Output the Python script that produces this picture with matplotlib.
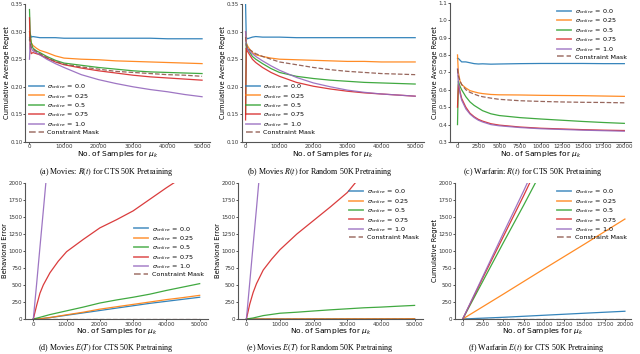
import numpy as np
import matplotlib.pyplot as plt

# ---- data ----
labels = [r'$\sigma_{online}$ = 0.0', r'$\sigma_{online}$ = 0.25', r'$\sigma_{online}$ = 0.5',
          r'$\sigma_{online}$ = 0.75', r'$\sigma_{online}$ = 1.0', 'Constraint Mask']
colors = ['#1f77b4', '#ff7f0e', '#2ca02c', '#d62728', '#9467bd', '#8c564b']

# (a) Movies R(t), CTS 50K pretraining
a_x = [0, 200, 500, 1000, 2000, 3000, 5000, 7500, 10000, 15000, 20000, 25000, 30000, 35000, 40000, 45000, 50000]
a_s00 = [0.285, 0.295, 0.290, 0.291, 0.290, 0.289, 0.289, 0.289, 0.288, 0.288, 0.288, 0.288, 0.288, 0.288, 0.287, 0.287, 0.287]
a_s25 = [0.300, 0.290, 0.280, 0.275, 0.270, 0.266, 0.262, 0.256, 0.252, 0.250, 0.249, 0.247, 0.246, 0.245, 0.244, 0.243, 0.242]
a_s50 = [0.340, 0.300, 0.280, 0.270, 0.265, 0.262, 0.255, 0.248, 0.243, 0.239, 0.235, 0.232, 0.229, 0.227, 0.226, 0.225, 0.224]
a_s75 = [0.325, 0.270, 0.260, 0.262, 0.260, 0.258, 0.252, 0.245, 0.240, 0.234, 0.229, 0.225, 0.221, 0.218, 0.216, 0.214, 0.212]
a_s100 = [0.250, 0.280, 0.270, 0.265, 0.262, 0.258, 0.250, 0.242, 0.235, 0.222, 0.213, 0.206, 0.200, 0.195, 0.191, 0.186, 0.182]
a_mask = [0.290, 0.280, 0.272, 0.268, 0.264, 0.260, 0.253, 0.246, 0.241, 0.236, 0.232, 0.228, 0.226, 0.224, 0.222, 0.221, 0.219]

# (b) Movies R(t), Random 50K pretraining
b_x = a_x
b_s00 = [0.350, 0.290, 0.287, 0.288, 0.290, 0.291, 0.290, 0.290, 0.290, 0.289, 0.289, 0.289, 0.289, 0.289, 0.289, 0.289, 0.289]
b_s25 = [0.300, 0.280, 0.275, 0.270, 0.262, 0.258, 0.255, 0.252, 0.250, 0.249, 0.248, 0.247, 0.246, 0.246, 0.245, 0.245, 0.245]
b_s50 = [0.150, 0.280, 0.270, 0.265, 0.255, 0.250, 0.242, 0.233, 0.226, 0.219, 0.215, 0.212, 0.210, 0.208, 0.207, 0.206, 0.205]
b_s75 = [0.140, 0.270, 0.265, 0.260, 0.250, 0.244, 0.235, 0.226, 0.219, 0.208, 0.201, 0.196, 0.192, 0.189, 0.187, 0.185, 0.183]
b_s100 = [0.300, 0.275, 0.270, 0.265, 0.260, 0.255, 0.247, 0.238, 0.230, 0.217, 0.207, 0.200, 0.194, 0.190, 0.187, 0.185, 0.183]
b_mask = [0.290, 0.275, 0.270, 0.268, 0.264, 0.260, 0.255, 0.250, 0.245, 0.240, 0.235, 0.231, 0.228, 0.226, 0.224, 0.223, 0.222]

# (c) Warfarin R(t), CTS 50K pretraining
c_x = [0, 100, 300, 500, 1000, 1500, 2000, 2500, 3000, 4000, 5000, 7500, 10000, 12500, 15000, 17500, 20000]
c_s00 = [0.78, 0.78, 0.77, 0.76, 0.76, 0.755, 0.75, 0.748, 0.749, 0.747, 0.748, 0.750, 0.751, 0.751, 0.751, 0.750, 0.750]
c_s25 = [0.80, 0.70, 0.65, 0.63, 0.61, 0.595, 0.588, 0.582, 0.578, 0.573, 0.571, 0.570, 0.568, 0.567, 0.566, 0.564, 0.562]
c_s50 = [0.40, 0.65, 0.62, 0.60, 0.56, 0.53, 0.51, 0.495, 0.48, 0.462, 0.452, 0.44, 0.432, 0.425, 0.418, 0.412, 0.407]
c_s75 = [0.50, 0.63, 0.59, 0.55, 0.50, 0.465, 0.445, 0.43, 0.42, 0.405, 0.397, 0.386, 0.379, 0.375, 0.371, 0.368, 0.366]
c_s100 = [0.72, 0.64, 0.58, 0.54, 0.49, 0.46, 0.44, 0.425, 0.415, 0.40, 0.393, 0.383, 0.376, 0.372, 0.368, 0.365, 0.362]
c_mask = [0.72, 0.68, 0.65, 0.63, 0.60, 0.585, 0.575, 0.566, 0.56, 0.552, 0.545, 0.537, 0.533, 0.530, 0.528, 0.527, 0.525]

# (d) Movies E(T), CTS 50K pretraining
d_x = [0, 2000, 5000, 10000, 15000, 20000, 25000, 30000, 35000, 40000, 45000, 50000]
d_s00 = [0, 3, 20, 55, 90, 125, 160, 195, 230, 260, 290, 320]
d_s25 = [0, 3, 22, 62, 100, 145, 180, 215, 250, 285, 315, 348]
d_s50 = [0, 25, 65, 120, 175, 235, 280, 320, 365, 420, 470, 520]
d_mask = [0, 0, 0, 0, 0, 0, 0, 0, 0, 0, 0, 0]
d_x75 = [0, 500, 1000, 2000, 3000, 5000, 7500, 10000, 15000, 20000, 25000, 30000, 35000, 40000, 42500]
d_s75 = [0, 100, 200, 380, 500, 680, 850, 990, 1170, 1340, 1460, 1590, 1760, 1930, 2010]
d_x100 = [0, 1000, 2000, 3000, 3800]
d_s100 = [0, 520, 1060, 1590, 2020]

# (e) Movies E(T), Random 50K pretraining
e_x = d_x
e_s00 = [0, 0, 1, 1, 1, 2, 2, 2, 2, 3, 3, 3]
e_s25 = [0, 0, 1, 1, 2, 2, 2, 3, 3, 3, 3, 4]
e_s50 = [0, 15, 50, 85, 100, 118, 135, 150, 165, 175, 188, 200]
e_mask = d_mask
e_x75 = [0, 500, 1000, 2000, 3000, 5000, 7500, 10000, 15000, 20000, 25000, 30000, 32500]
e_s75 = [0, 110, 220, 390, 520, 720, 880, 1020, 1250, 1450, 1650, 1860, 2010]
e_x100 = [0, 1000, 2000, 3000, 3700]
e_s100 = [0, 540, 1090, 1630, 2020]

# (f) Warfarin E(t), CTS 50K pretraining
f_x = [0, 5000, 10000, 15000, 20000]
f_s00 = [0, 25, 55, 85, 114]
f_s25 = [0, 365, 735, 1100, 1470]
f_mask = [0, 0, 0, 0, 0]
f_x50 = [0, 2500, 5000, 7500, 9000]
f_s50 = [0, 560, 1120, 1670, 2010]
f_x75 = [0, 2500, 5000, 7500, 8300]
f_s75 = [0, 610, 1210, 1810, 2010]
f_x100 = [0, 2500, 5000, 7500, 8000]
f_s100 = [0, 630, 1260, 1880, 2010]

captions = [r'(a) Movies: $R(t)$ for CTS 50K Pretraining',
            r'(b) Movies $R(t)$ for Random 50K Pretraining',
            r'(c) Warfarin: $R(t)$ for CTS 50K Pretraining',
            r'(d) Movies $E(T)$ for CTS 50K Pretraining',
            r'(e) Movies $E(T)$ for Random 50K Pretraining',
            r'(f) Warfarin $E(t)$ for CTS 50K Pretraining']

# ---- figure ----
W, H = 640, 354
fig = plt.figure(figsize=(W / 100, H / 100), dpi=100)
plt.rcParams['font.family'] = 'DejaVu Sans'


def make_ax(l, t, r, b):
    ax = fig.add_axes([l / W, 1 - b / H, (r - l) / W, (b - t) / H])
    for s in ['top', 'right']:
        ax.spines[s].set_visible(False)
    for s in ['left', 'bottom']:
        ax.spines[s].set_linewidth(0.8)
        ax.spines[s].set_color('#555555')
    ax.tick_params(labelsize=4.0, length=1.3, width=0.6, pad=0.5, colors='#333333')
    return ax


def draw(ax, series, ylabel, xlim, ylim, xticks, yticks, leg_loc, leg_anchor):
    for i, (x, y) in enumerate(series):
        ls = '--' if i == 5 else '-'
        ax.plot(x, y, ls, color=colors[i], lw=0.9, alpha=0.9, label=labels[i])
    ax.set_xlim(*xlim)
    ax.set_ylim(*ylim)
    ax.set_xticks(xticks)
    ax.set_yticks(yticks)
    ax.set_xlabel(r'No. of Samples for $\mu_k$', fontsize=5.4, labelpad=0.5)
    ax.set_ylabel(ylabel, fontsize=4.9, labelpad=0.4)
    leg = ax.legend(loc=leg_loc, bbox_to_anchor=leg_anchor, frameon=False, fontsize=4.6,
                    handlelength=2.2, handletextpad=0.5, labelspacing=0.08, borderpad=0.2)
    for ln in leg.get_lines():
        ln.set_linewidth(1.3)
        ln.set_alpha(0.7)


ax_a = make_ax(25, 4, 210, 142)
draw(ax_a, [(a_x, a_s00), (a_x, a_s25), (a_x, a_s50), (a_x, a_s75), (a_x, a_s100), (a_x, a_mask)],
     'Cumulative Average Regret', (-1300, 52300), (0.10, 0.35),
     np.arange(0, 50001, 10000), np.arange(0.10, 0.351, 0.05), 'lower left', (0.0, 0.02))
ax_a.yaxis.set_major_formatter(plt.FormatStrFormatter('%.2f'))

ax_b = make_ax(241.5, 4, 424, 142)
draw(ax_b, [(b_x, b_s00), (b_x, b_s25), (b_x, b_s50), (b_x, b_s75), (b_x, b_s100), (b_x, b_mask)],
     'Cumulative Average Regret', (-1200, 52600), (0.10, 0.35),
     np.arange(0, 50001, 10000), np.arange(0.10, 0.351, 0.05), 'lower left', (0.0, 0.02))
ax_b.yaxis.set_major_formatter(plt.FormatStrFormatter('%.2f'))

ax_c = make_ax(450, 2.7, 631, 142)
draw(ax_c, [(c_x, c_s00), (c_x, c_s25), (c_x, c_s50), (c_x, c_s75), (c_x, c_s100), (c_x, c_mask)],
     'Cumulative Average Regret', (-900, 20800), (0.3, 1.1),
     np.arange(0, 20001, 2500), np.arange(0.3, 1.101, 0.1), 'upper right', (1.0, 1.0))
ax_c.yaxis.set_major_formatter(plt.FormatStrFormatter('%.1f'))

ax_d = make_ax(25, 183, 208, 319)
draw(ax_d, [(d_x, d_s00), (d_x, d_s25), (d_x, d_s50), (d_x75, d_s75), (d_x100, d_s100), (d_x, d_mask)],
     'Behavioral Error', (-2500, 52500), (0, 2000),
     np.arange(0, 50001, 10000), np.arange(0, 2001, 250), 'center right', (1.0, 0.5))

ax_e = make_ax(238, 183, 423, 319)
draw(ax_e, [(e_x, e_s00), (e_x, e_s25), (e_x, e_s50), (e_x75, e_s75), (e_x100, e_s100), (e_x, e_mask)],
     'Behavioral Error', (-2500, 52500), (0, 2000),
     np.arange(0, 50001, 10000), np.arange(0, 2001, 250), 'upper right', (1.0, 1.0))

ax_f = make_ax(455, 183, 631, 319)
draw(ax_f, [(f_x, f_s00), (f_x, f_s25), (f_x50, f_s50), (f_x75, f_s75), (f_x100, f_s100), (f_x, f_mask)],
     'Cumulative Regret', (-950, 20750), (0, 2000),
     np.arange(0, 20001, 2500), np.arange(0, 2001, 250), 'upper right', (1.0, 1.0))

cap_pos = [(106, 172), (320, 172), (533, 172), (106, 348), (320, 348), (536, 348)]
for (cx, cy), txt in zip(cap_pos, captions):
    fig.text(cx / W, 1 - cy / H, txt, ha='center', va='center', fontsize=5.8,
             family='Liberation Serif', math_fontfamily='stix')

fig.savefig('out.png', dpi=100)
